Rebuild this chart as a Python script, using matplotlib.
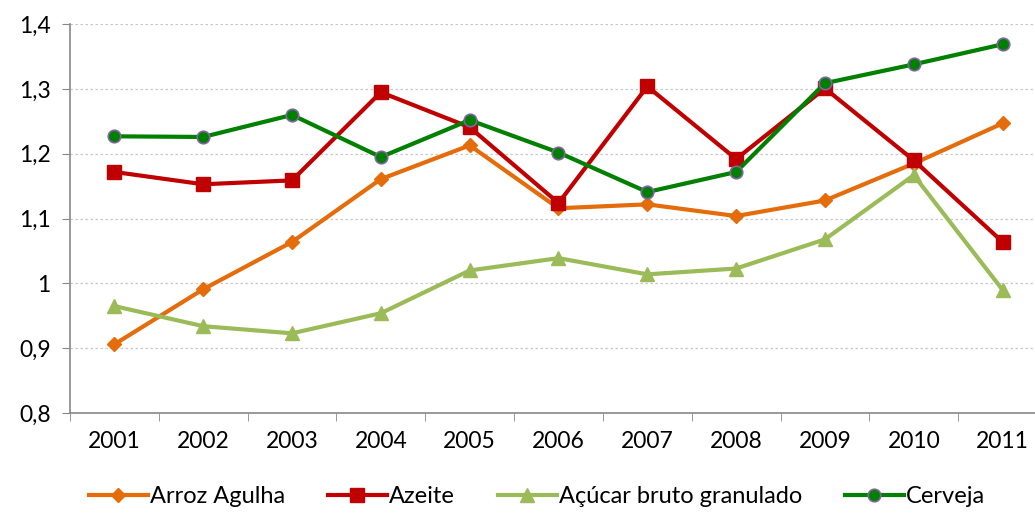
import numpy as np
import matplotlib.pyplot as plt

years = ['2001', '2002', '2003', '2004', '2005', '2006', '2007', '2008', '2009', '2010', '2011']
arroz = [0.906, 0.991, 1.064, 1.161, 1.213, 1.116, 1.122, 1.104, 1.128, 1.185, 1.247]
azeite = [1.172, 1.153, 1.159, 1.295, 1.241, 1.124, 1.304, 1.192, 1.301, 1.190, 1.064]
acucar = [0.965, 0.934, 0.923, 0.954, 1.020, 1.039, 1.014, 1.023, 1.068, 1.167, 0.990]
cerveja = [1.227, 1.226, 1.260, 1.195, 1.252, 1.202, 1.141, 1.172, 1.309, 1.338, 1.369]
yticks = [0.8, 0.9, 1.0, 1.1, 1.2, 1.3, 1.4]
ylabels = ['0,8', '0,9', '1', '1,1', '1,2', '1,3', '1,4']

plt.rcParams['font.family'] = ['Lato', 'DejaVu Sans']

fig = plt.figure(figsize=(10.35, 5.15), dpi=100)
ax = fig.add_axes([0.0676, 0.198, 0.944, 0.755])

x = np.arange(len(years))
ax.plot(x, arroz, color='#E46C0A', lw=3, marker='D', ms=7, label='Arroz Agulha', zorder=3)
ax.plot(x, azeite, color='#C00000', lw=3, marker='s', ms=10, label='Azeite', zorder=3)
ax.plot(x, acucar, color='#9BBB59', lw=3, marker='^', ms=10, label='Açúcar bruto granulado', zorder=3)
ax.plot(x, cerveja, color='#008000', lw=3, marker='o', ms=9, mec='#8064A2', mew=1.2,
        label='Cerveja', zorder=3)

ax.set_xlim(-0.5, len(years) - 0.5)
ax.set_ylim(0.8, 1.4)
ax.set_yticks(yticks)
ax.set_yticklabels(ylabels, fontsize=16.5)
ax.set_xticks(x)
ax.set_xticklabels(years, fontsize=16.5)
ax.set_xticks(np.arange(-0.5, len(years)), minor=True)
ax.tick_params(axis='x', which='major', length=0, pad=13)
ax.tick_params(axis='x', which='minor', length=6, color='#888888')
ax.tick_params(axis='y', length=6, color='#888888', pad=8)

ax.grid(axis='y', linestyle=(0, (2, 2)), color='#C8C8C8', lw=0.9)
for s in ['top', 'right']:
    ax.spines[s].set_visible(False)
for s in ['left', 'bottom']:
    ax.spines[s].set_color('#888888')
    ax.spines[s].set_linewidth(1.2)

fig.legend(loc='center', bbox_to_anchor=(0.519, 0.035), ncol=4, frameon=False,
           fontsize=17, handlelength=2.5, columnspacing=1.8, handletextpad=0.1)

fig.savefig('out.png', dpi=100)
plt.close(fig)
